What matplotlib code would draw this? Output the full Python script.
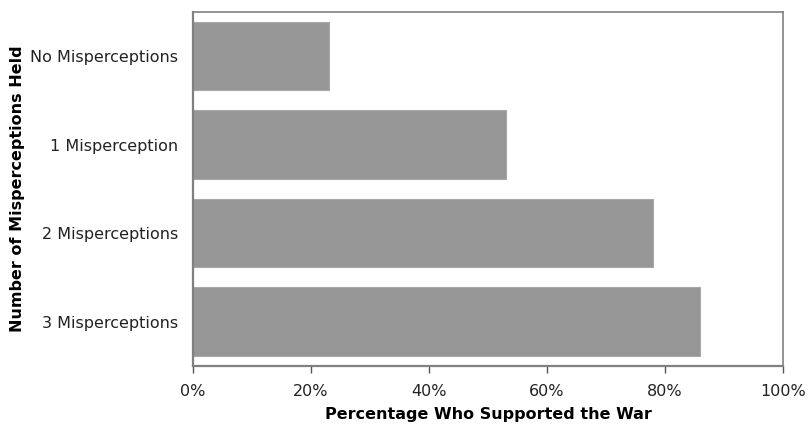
import matplotlib
matplotlib.use("Agg")
import matplotlib.pyplot as plt
from matplotlib.ticker import PercentFormatter

categories = ["No Misperceptions", "1 Misperception", "2 Misperceptions", "3 Misperceptions"]
support_pct = [23, 53, 78, 86]
x_ticks = [0, 20, 40, 60, 80, 100]

fig = plt.figure(figsize=(8.08, 4.29), dpi=100)
ax = fig.add_axes([0.239, 0.147, 0.730, 0.825])

ax.barh(range(len(categories)), support_pct, height=0.774,
        color="#969696", edgecolor="#a8a8a8", linewidth=0.8)

ax.set_ylim(len(categories) - 0.5, -0.5)
ax.set_xlim(0, 100)
ax.set_yticks(range(len(categories)))
ax.set_yticklabels(categories, fontsize=11.5, color="#222222")
ax.set_xticks(x_ticks)
ax.xaxis.set_major_formatter(PercentFormatter(decimals=0))
ax.tick_params(axis="x", labelsize=11.5, colors="#222222", length=5,
               width=1, direction="out", pad=8, color="#555555")
ax.tick_params(axis="y", length=0, pad=11)

for side, spine in ax.spines.items():
    spine.set_color("#808080")
    spine.set_linewidth(1.6 if side in ("bottom", "left") else 1.2)

ax.set_xlabel("Percentage Who Supported the War", fontsize=11.5,
              fontweight="bold", labelpad=6)
ax.set_ylabel("Number of Misperceptions Held", fontsize=11.5,
              fontweight="bold")
ax.yaxis.set_label_coords(-0.285, 0.5)

fig.savefig("out.png", dpi=100, facecolor="white")
